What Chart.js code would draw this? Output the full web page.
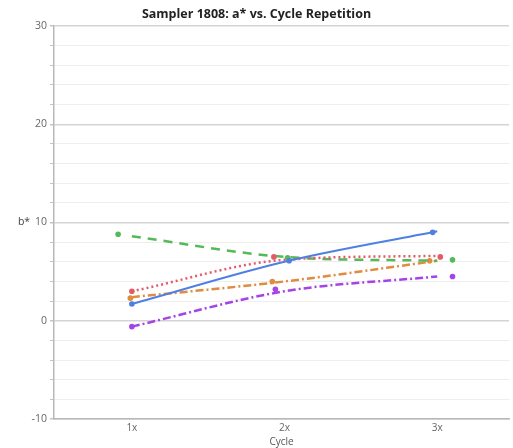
<!DOCTYPE html>
<html>
<head>
<meta charset="utf-8">
<script src="https://cdn.jsdelivr.net/npm/chart.js@4.4.1/dist/chart.umd.min.js"></script>
<style>
  html, body { margin: 0; padding: 0; background: #fff; }
  #wrap { width: 513px; height: 448px; }
</style>
</head>
<body>
<div id="wrap"><canvas id="cycleChart"></canvas></div>
<script>
const cycleLabels = ['1x', '2x', '3x'];
const cycleNums = [1, 2, 3];

// b* readings per sample (points are spread a little around each cycle)
const blueX = [1.0, 2.03, 2.97];
const blueVals = [1.7, 6.1, 9.0];
const blueFit = [1.7, 6.0, 9.1];

const redX = [1.0, 1.93, 3.02];
const redVals = [3.0, 6.5, 6.5];
const redFit = [3.0, 6.2, 6.6];

const greenX = [0.91, 2.02, 3.1];
const greenVals = [8.8, 6.4, 6.2];
const greenFit = [8.6, 6.5, 6.1];

const orangeX = [0.99, 1.92, 2.95];
const orangeVals = [2.3, 4.0, 6.1];
const orangeFit = [2.4, 4.0, 6.1];

const purpleX = [1.0, 1.94, 3.1];
const purpleVals = [-0.6, 3.2, 4.5];
const purpleFit = [-0.6, 3.0, 4.5];

const yTicksMajor = [-10, 0, 10, 20, 30];

const FONT = '"Open Sans", "Noto Sans", sans-serif';

const series = [
  { color: '#4f7fe3', xs: blueX, vals: blueVals, fit: blueFit, dash: [], width: 2 },
  { color: '#e35a68', xs: redX, vals: redVals, fit: redFit, dash: [2, 3], width: 2.5 },
  { color: '#55b95a', xs: greenX, vals: greenVals, fit: greenFit, dash: [9, 7], width: 2.5 },
  { color: '#e08b3e', xs: orangeX, vals: orangeVals, fit: orangeFit, dash: [8, 3, 2, 3], width: 2.5 },
  { color: '#a544e6', xs: purpleX, vals: purpleVals, fit: purpleFit, dash: [8, 3, 2, 3], width: 2.5 }
];

const datasets = [];
series.forEach(s => {
  datasets.push({
    type: 'line',
    data: cycleNums.map((x, i) => ({ x: x, y: s.fit[i] })),
    borderColor: s.color,
    borderWidth: s.width,
    borderDash: s.dash,
    pointRadius: 0,
    fill: false,
    cubicInterpolationMode: 'monotone'
  });
  datasets.push({
    type: 'scatter',
    data: s.xs.map((x, i) => ({ x: x, y: s.vals[i] })),
    backgroundColor: s.color,
    borderWidth: 0,
    pointRadius: 2.8
  });
});

// unrotated "b*" axis caption, like the original plot software draws it
const yCaption = {
  id: 'yCaption',
  afterDraw(chart) {
    const { ctx, chartArea } = chart;
    ctx.save();
    ctx.font = '10.5px ' + FONT;
    ctx.fillStyle = '#444';
    ctx.textAlign = 'center';
    ctx.textBaseline = 'middle';
    ctx.fillText('b*', 24, (chartArea.top + chartArea.bottom) / 2);
    ctx.restore();
  }
};

new Chart(document.getElementById('cycleChart'), {
  type: 'scatter',
  data: { datasets: datasets },
  plugins: [yCaption],
  options: {
    responsive: true,
    maintainAspectRatio: false,
    animation: false,
    layout: { padding: { left: 0, right: 0, top: 0, bottom: 0 } },
    plugins: {
      legend: { display: false },
      tooltip: { enabled: false },
      title: {
        display: true,
        text: 'Sampler 1808: a* vs. Cycle Repetition',
        color: '#222',
        font: { family: FONT, size: 12.5, weight: 'bold' },
        padding: { top: 7, bottom: 4 }
      }
    },
    scales: {
      x: {
        type: 'linear',
        min: 0.49,
        max: 3.47,
        afterBuildTicks: scale => { scale.ticks = cycleNums.map(v => ({ value: v })); },
        ticks: {
          color: '#666',
          font: { family: FONT, size: 10 },
          padding: 3,
          callback: v => cycleLabels[cycleNums.indexOf(v)] || ''
        },
        grid: { display: true, drawOnChartArea: false, drawTicks: false },
        border: { color: '#b8b8b8', width: 1.5 },
        title: {
          display: true,
          text: 'Cycle',
          color: '#555',
          font: { family: FONT, size: 10, lineHeight: 1.1 },
          padding: { top: 0, bottom: 0 }
        }
      },
      y: {
        min: -10,
        max: 30,
        afterFit: scale => { scale.width = 54; },
        ticks: {
          stepSize: 2,
          autoSkip: false,
          color: '#666',
          font: { family: FONT, size: 10.5 },
          padding: 3,
          callback: v => yTicksMajor.includes(v) ? v : ''
        },
        grid: {
          color: ctx => yTicksMajor.includes(ctx.tick.value) ? '#d4d4d4' : '#eeeeee',
          tickColor: '#c4c4c4',
          tickLength: 4,
          lineWidth: ctx => yTicksMajor.includes(ctx.tick.value) ? 1.5 : 1
        },
        border: { color: '#b8b8b8', width: 1.5 }
      }
    }
  }
});
</script>
</body>
</html>
